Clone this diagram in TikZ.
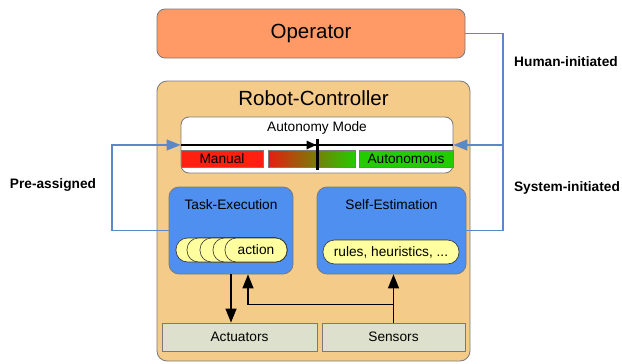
\documentclass[tikz,border=0pt]{standalone}
\usepackage{fontspec}
\setmainfont{Liberation Sans}
\usetikzlibrary{arrows.meta,calc}
\definecolor{opfill}{HTML}{FF9966}
\definecolor{rcfill}{HTML}{F5CB8A}
\definecolor{bxblue}{HTML}{4F8FEF}
\definecolor{pillc}{HTML}{FFFFA0}
\definecolor{hwfill}{HTML}{DDE0CC}
\definecolor{edgec}{HTML}{7A7A7A}
\definecolor{conblue}{HTML}{5A88C8}
\definecolor{manred}{HTML}{FF2010}
\definecolor{autgreen}{HTML}{22CC00}
\tikzset{
  bigtxt/.style={font=\fontsize{20.5}{24}\selectfont},
  midtxt/.style={font=\fontsize{13.7}{16}\selectfont},
  lbltxt/.style={font=\fontsize{13.7}{16}\selectfont\bfseries},
  opbox/.style={draw=edgec,fill=opfill,rounded corners=8pt,line width=0.8pt,inner sep=0pt,bigtxt},
  rcbox/.style={draw=edgec,fill=rcfill,rounded corners=10pt,line width=0.8pt,inner sep=0pt},
  whitebox/.style={draw=edgec,fill=white,rounded corners=8pt,line width=0.8pt,inner sep=0pt},
  bar/.style={draw=edgec,line width=0.6pt,inner sep=0pt,minimum height=17pt,midtxt},
  bluebox/.style={draw=edgec,fill=bxblue,rounded corners=10pt,line width=0.8pt,inner sep=0pt},
  pill/.style={draw=black!80,fill=pillc,rounded corners=11.5pt,line width=0.6pt,inner sep=0pt,minimum height=24pt,midtxt},
  hwbox/.style={draw=edgec,fill=hwfill,line width=0.8pt,inner sep=0pt,minimum height=28pt,midtxt},
  blueline/.style={draw=conblue,line width=1.3pt},
  bluetip/.style={-{Triangle[length=14pt,width=11pt]},blueline},
  blktip/.style={-{Triangle[length=14pt,width=11pt]},line width=1.3pt},
}
\begin{document}
\begin{tikzpicture}[x=1pt,y=-1pt]
\useasboundingbox (0,0) rectangle (622,364);
% Operator
\node[opbox,minimum width=308pt,minimum height=49pt] (operator) at (311,33.5) {Operator};
% Robot controller
\node[rcbox,minimum width=313pt,minimum height=280pt] (robot) at (313.5,221) {};
\node[bigtxt] (rctitle) at (313.5,98) {Robot-Controller};
% Autonomy mode
\node[whitebox,minimum width=272pt,minimum height=56pt] (autonomy) at (317,145) {};
\node[midtxt] (amtitle) at (317,128) {Autonomy Mode};
\node[bar,fill=manred,minimum width=82pt] (manual) at (222,158.5) {Manual};
\node[bar,left color=manred!90!black,right color=autgreen,minimum width=87pt] (grad) at (311.5,158.5) {};
\node[bar,fill=autgreen,minimum width=94pt] (auton) at (406,158.5) {Autonomous};
\draw[line width=1.2pt] (autonomy.west) -- (autonomy.east);
\fill (306.5,140.5) -- (316,145) -- (306.5,149.5) -- cycle;
\coordinate (slidtop) at (317.5,139);
\coordinate (slidbot) at (317.5,170);
\draw[line width=2.6pt] (slidtop) -- (slidbot);
% Task execution
\node[bluebox,minimum width=124pt,minimum height=87pt] (taskex) at (231,230.5) {};
\node[midtxt] (tetitle) at (231,205) {Task-Execution};
\foreach \s [count=\i] in {176,187,200,213} {
  \node[pill,minimum width={287-\s}] (p\i) at ({(\s+287)/2},250) {};
}
\node[pill,minimum width=62pt] (action) at (256,250) {action};
% Self estimation
\node[bluebox,minimum width=149pt,minimum height=87pt] (selfest) at (391.5,230.5) {};
\node[midtxt] (setitle) at (391.5,205) {Self-Estimation};
\node[pill,minimum width=136pt] (rules) at (391,252) {rules, heuristics, ...};
% Hardware
\node[hwbox,minimum width=155pt] (actuators) at (239.5,337) {Actuators};
\node[hwbox,minimum width=143pt] (sensors) at (393.5,337) {Sensors};
% black arrows
\draw[blktip] (taskex.south) -- (taskex.south |- actuators.north);
\draw[blktip] (sensors.north) -- (sensors.north |- selfest.south);
\draw[blktip] (sensors.north) -- ++(0,-18) -| ([xshift=17pt]taskex.south);
% blue connectors
\coordinate (lc) at (112,0);
\coordinate (rc) at (503,0);
\draw[bluetip] (taskex.west) -- (lc |- taskex.west) |- (autonomy.west);
\draw[blueline] (operator.east) -| (rc |- selfest.east) -- (selfest.east);
\draw[bluetip] (rc |- autonomy.east) -- (autonomy.east);
% labels
\node[lbltxt] (human) at (566,62) {Human-initiated};
\node[lbltxt] (system) at (567,188) {System-initiated};
\node[lbltxt] (pre) at (53,185) {Pre-assigned};
\end{tikzpicture}
\end{document}
